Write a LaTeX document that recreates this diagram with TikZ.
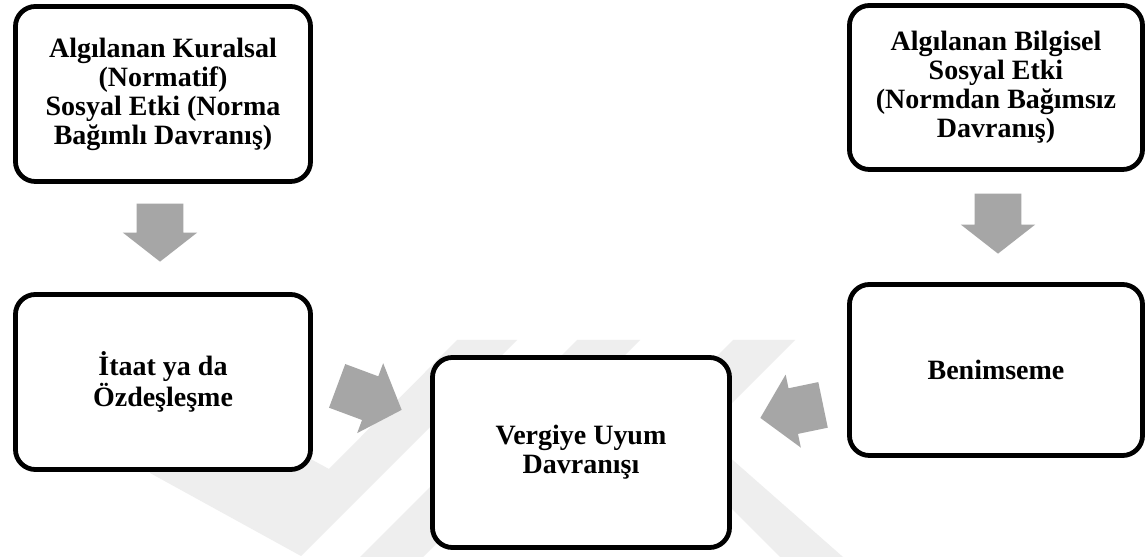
\documentclass[tikz,border=0pt]{standalone}
\usepackage{fontspec}
\setmainfont{Liberation Serif}
\usetikzlibrary{shapes.arrows, calc}

\definecolor{okgri}{HTML}{A6A6A6}
\definecolor{silik}{HTML}{EEEEEE}

\tikzset{
    kutu/.style={draw, line width=3.4pt, rounded corners=0.5cm, fill=white, align=center, inner sep=0pt,
        font=\bfseries\fontsize{19.9pt}{20.6pt}\selectfont},
    blok/.style={single arrow, fill=okgri, inner xsep=0pt, inner ysep=0.575cm, anchor=tip,
        single arrow head extend=0.35cm, single arrow tip angle=104},
}

\begin{document}
\begin{tikzpicture}[x=0.025cm, y=-0.025cm]
    \fill[white] (0,0) rectangle (1147,557);
    % faint logo in the background
    \fill[silik] (150,372) -- (329,469) -- (457,340) -- (517,340) -- (301,556) -- (150,473) -- cycle;
    \fill[silik] (577,340) -- (640,340) -- (423,557) -- (360,557) -- cycle;
    \fill[silik] (733,340) -- (795,340) -- (702,433) -- (843,557) -- (780,557) -- (648,425) -- cycle;

    % boxes
    \node[kutu, minimum width=7.375cm, minimum height=4.375cm] (kural) at (163,94)
        {Algılanan Kuralsal\\(Normatif)\\Sosyal Etki (Norma\\Bağımlı Davranış)};
    \node[kutu, minimum width=7.325cm, minimum height=4.1cm] (bilgi) at (996,87.5)
        {Algılanan Bilgisel\\Sosyal Etki\\(Normdan Bağımsız\\Davranış)};
    \node[kutu, minimum width=7.375cm, minimum height=4.375cm] (itaat) at (163,382)
        {İtaat ya da\\Özdeşleşme};
    \node[kutu, minimum width=7.325cm, minimum height=4.275cm] (benim) at (996,370)
        {Benimseme};
    \node[kutu, minimum width=7.425cm, minimum height=4.75cm] (uyum) at (581,452.5)
        {Vergiye Uyum\\Davranışı};

    % block arrows, placed by their tips
    \node[blok, rotate=-90, minimum height=1.45cm] (ok1) at (160,262) {};
    \node[blok, rotate=-90, minimum height=1.5cm] (ok2) at (998,254) {};
    \node[blok, rotate=-20.4, single arrow tip angle=96, minimum height=1.72cm] (ok3) at (402,410) {};
    \node[blok, rotate=191.75, single arrow tip angle=96, minimum height=1.6cm] (ok4) at (760,418) {};
\end{tikzpicture}
\end{document}
